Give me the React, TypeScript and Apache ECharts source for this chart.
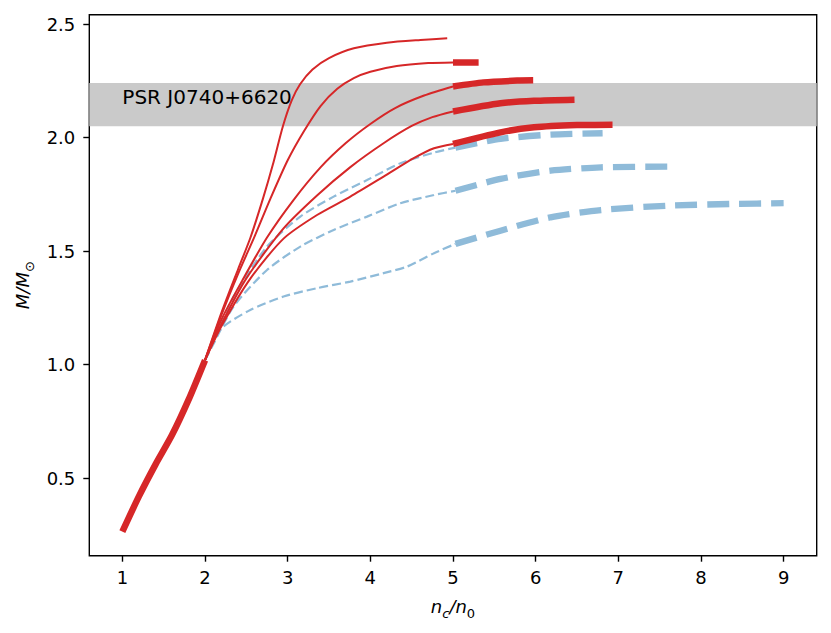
import React, { useEffect, useRef } from "react";
import * as echarts from "echarts";

const FONT = "DejaVu Sans";
const RED = "#d62728";
const BLUE = "#8fbbd9";

const xTicks = [1, 2, 3, 4, 5, 6, 7, 8, 9];
const yTicks = [0.5, 1.0, 1.5, 2.0, 2.5];
const xRange = [0.6, 9.4];
const yRange = [0.159, 2.541];
const psrBand = [2.05, 2.24];
const psrLabel = "PSR J0740+6620";
const psrLabelAt = [1.0, 2.18];

// common low-density branch
const sharedLow = [[1.0, 0.265], [1.2, 0.42], [1.4, 0.56], [1.6, 0.69], [1.8, 0.845], [2.0, 1.02]];

// red (solid) curves: thin part up to n=5 and thick part beyond
const red1Thin = [[2.0, 1.02], [2.2, 1.23], [2.4, 1.42], [2.55, 1.56], [2.7, 1.73], [2.82, 1.88], [2.943, 2.051], [3.05, 2.165], [3.15, 2.235], [3.3, 2.3], [3.5, 2.35], [3.8, 2.393], [4.2, 2.418], [4.606, 2.43], [4.93, 2.437]];
const red2Thin = [[2.0, 1.02], [2.2, 1.22], [2.4, 1.4], [2.6, 1.565], [2.79, 1.73], [3.0, 1.9], [3.2, 2.03], [3.4, 2.14], [3.6, 2.215], [3.8, 2.262], [4.0, 2.29], [4.32, 2.315], [4.7, 2.328], [5.0, 2.331]];
const red2Thick = [[5.0, 2.331], [5.31, 2.331]];
const red3Thin = [[2.0, 1.02], [2.2, 1.2], [2.45, 1.37], [2.75, 1.56], [3.07, 1.725], [3.4, 1.87], [3.7, 1.975], [4.0, 2.06], [4.3, 2.13], [4.65, 2.185], [5.0, 2.225]];
const red3Thick = [[5.0, 2.225], [5.37, 2.243], [5.78, 2.251], [5.97, 2.252]];
const red4Thin = [[2.0, 1.02], [2.2, 1.18], [2.5, 1.38], [2.95, 1.6], [3.355, 1.745], [3.758, 1.87], [4.16, 1.975], [4.5, 2.051], [4.75, 2.09], [5.0, 2.115]];
const red4Thick = [[5.0, 2.115], [5.575, 2.151], [5.98, 2.162], [6.47, 2.167]];
const red5Thin = [[2.0, 1.02], [2.2, 1.17], [2.55, 1.38], [2.95, 1.555], [3.355, 1.659], [3.758, 1.74], [4.16, 1.828], [4.525, 1.909], [4.77, 1.953], [5.0, 1.972]];
const red5Thick = [[5.0, 1.972], [5.575, 2.023], [5.98, 2.045], [6.5, 2.055], [6.93, 2.057]];

// blue (dashed) curves
const blue1Thin = [[2.0, 1.02], [2.1, 1.1], [2.345, 1.3], [2.75, 1.52], [3.153, 1.652], [3.556, 1.74], [3.96, 1.813], [4.364, 1.887], [4.77, 1.934], [5.03, 1.956]];
const blue1Thick = [[5.03, 1.956], [5.575, 1.994], [6.18, 2.013], [6.81, 2.019]];
const blue2Thin = [[2.0, 1.02], [2.1, 1.09], [2.345, 1.256], [2.75, 1.417], [3.153, 1.52], [3.556, 1.593], [3.96, 1.652], [4.364, 1.711], [4.77, 1.747], [5.03, 1.766]];
const blue2Thick = [[5.03, 1.766], [5.575, 1.818], [6.18, 1.854], [6.79, 1.869], [7.63, 1.872]];
const blue3Thin = [[2.0, 1.02], [2.18, 1.153], [2.547, 1.241], [2.95, 1.3], [3.355, 1.337], [3.758, 1.366], [4.16, 1.403], [4.445, 1.432], [4.77, 1.491], [5.03, 1.532]];
const blue3Thick = [[5.03, 1.532], [5.575, 1.59], [6.18, 1.649], [6.79, 1.681], [7.59, 1.7], [8.4, 1.708], [9.0, 1.711]];

function lineSeries(data: number[][], color: string, width: number, type: any) {
  return {
    type: "line",
    data,
    showSymbol: false,
    symbol: "none",
    smooth: 0.25,
    silent: true,
    lineStyle: { color, width, type, cap: "butt" },
    z: color === RED ? 4 : 3,
  };
}

export default function App() {
  const ref = useRef<HTMLDivElement>(null);
  useEffect(() => {
    const chart = echarts.init(ref.current!, null, { renderer: "svg" });
    const thinDash = [9, 4];
    const thickDash = [22, 10];
    const series: any[] = [
      lineSeries(blue1Thin, BLUE, 2.2, thinDash),
      lineSeries(blue2Thin, BLUE, 2.2, thinDash),
      lineSeries(blue3Thin, BLUE, 2.2, thinDash),
      lineSeries(blue1Thick, BLUE, 6.3, thickDash),
      lineSeries(blue2Thick, BLUE, 6.3, thickDash),
      lineSeries(blue3Thick, BLUE, 6.3, thickDash),
      lineSeries(red1Thin, RED, 2, "solid"),
      lineSeries(red2Thin, RED, 2, "solid"),
      lineSeries(red3Thin, RED, 2, "solid"),
      lineSeries(red4Thin, RED, 2, "solid"),
      lineSeries(red5Thin, RED, 2, "solid"),
      lineSeries(red2Thick, RED, 6.5, "solid"),
      lineSeries(red3Thick, RED, 6.5, "solid"),
      lineSeries(red4Thick, RED, 6.5, "solid"),
      lineSeries(red5Thick, RED, 6.5, "solid"),
      lineSeries(sharedLow, RED, 6.5, "solid"),
    ];
    series.push({
      type: "line",
      data: [],
      silent: true,
      markArea: {
        silent: true,
        itemStyle: { color: "#cacaca" },
        data: [[{ yAxis: psrBand[0] }, { yAxis: psrBand[1] }]],
        z: 0,
      },
      markPoint: {
        silent: true,
        symbol: "circle",
        symbolSize: 0,
        data: [{ coord: psrLabelAt }],
        label: {
          show: true,
          position: "right",
          distance: 0,
          formatter: psrLabel,
          color: "#000",
          fontSize: 20,
          fontFamily: FONT,
        },
      },
      z: 1,
    });
    chart.setOption({
      animation: false,
      grid: {
        left: 89.3,
        top: 14.7,
        right: 14.3,
        bottom: 77.3,
        show: true,
        borderColor: "#000",
        borderWidth: 1.4,
        backgroundColor: "transparent",
      },
      xAxis: {
        type: "value",
        min: xRange[0],
        max: xRange[1],
        splitLine: { show: false },
        axisLine: { show: false },
        axisTick: {
          show: true,
          inside: false,
          length: 6,
          lineStyle: { color: "#000", width: 1.4 },
          customValues: xTicks,
        },
        axisLabel: {
          customValues: xTicks,
          color: "#000",
          fontSize: 18,
          fontFamily: FONT,
          margin: 13,
          formatter: (v: number) => String(Math.round(v)),
        },
        name: "{i|n}{sc|c}{n|/}{i|n}{s|0}",
        nameLocation: "middle",
        nameGap: 38,
        nameTextStyle: {
          color: "#000",
          fontFamily: FONT,
          rich: {
            i: { fontStyle: "italic", fontSize: 18, fontFamily: FONT, color: "#000", lineHeight: 26 },
            n: { fontStyle: "italic", fontSize: 18, fontFamily: FONT, color: "#000", lineHeight: 26 },
            sc: { fontStyle: "italic", fontSize: 13, fontFamily: FONT, color: "#000", lineHeight: 13, verticalAlign: "bottom" },
            s: { fontSize: 13, fontFamily: FONT, color: "#000", lineHeight: 13, verticalAlign: "bottom" },
          },
        },
      },
      yAxis: {
        type: "value",
        min: yRange[0],
        max: yRange[1],
        splitLine: { show: false },
        axisLine: { show: false },
        axisTick: {
          show: true,
          inside: false,
          length: 6,
          lineStyle: { color: "#000", width: 1.4 },
          customValues: yTicks,
        },
        axisLabel: {
          customValues: yTicks,
          color: "#000",
          fontSize: 18,
          fontFamily: FONT,
          margin: 14,
          formatter: (v: number) => v.toFixed(1),
        },
        name: "{i|M}{n|/}{i|M}{s|⊙}",
        nameLocation: "middle",
        nameGap: 52,
        nameTextStyle: {
          color: "#000",
          fontFamily: FONT,
          rich: {
            i: { fontStyle: "italic", fontSize: 18, fontFamily: FONT, color: "#000", lineHeight: 26 },
            n: { fontStyle: "italic", fontSize: 18, fontFamily: FONT, color: "#000", lineHeight: 26 },
            s: { fontSize: 13, fontFamily: FONT, color: "#000", lineHeight: 13, verticalAlign: "bottom" },
          },
        },
      },
      series,
    });
    return () => chart.dispose();
  }, []);
  return <div ref={ref} style={{ position: "absolute", left: 0, top: 0, width: 831, height: 633 }} />;
}
